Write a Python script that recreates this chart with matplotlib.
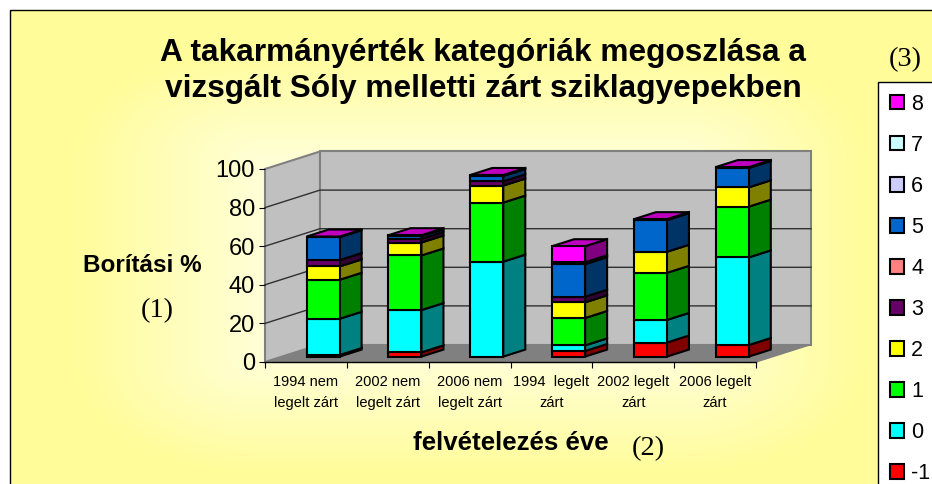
from __future__ import annotations

import matplotlib
matplotlib.use("Agg")
import matplotlib.pyplot as plt  # type: ignore
import numpy as np
from matplotlib.patches import Patch, Polygon, Rectangle

plt.rcParams["font.family"] = ["Liberation Sans", "DejaVu Sans"]

W, H = 932, 484

CATEGORIES = [
    "1994 nem\nlegelt zárt",
    "2002 nem\nlegelt zárt",
    "2006 nem\nlegelt zárt",
    "1994  legelt\nzárt",
    "2002 legelt\nzárt",
    "2006 legelt\nzárt",
]
YTICKS = [0, 20, 40, 60, 80, 100]

# series, bottom to top of the stack
S_M1 = [0.8, 2.2, 0.0, 2.9, 7.3, 6.0]
S_0 = [18.8, 21.9, 49.2, 2.9, 11.7, 45.4]
S_1 = [20.2, 28.3, 30.6, 14.2, 24.4, 26.3]
S_2 = [6.9, 6.7, 8.8, 8.1, 10.9, 10.0]
S_3 = [3.3, 1.9, 2.2, 2.9, 0.0, 0.0]
S_4 = [0.0, 0.0, 0.0, 0.0, 0.0, 0.0]
S_5 = [11.9, 1.4, 2.8, 16.9, 16.4, 10.0]
S_6 = [0.0, 0.0, 0.0, 0.0, 0.0, 0.0]
S_7 = [0.0, 0.0, 0.0, 1.0, 0.0, 0.0]
S_8 = [0.3, 0.5, 0.5, 8.3, 0.5, 0.5]

SERIES = [S_M1, S_0, S_1, S_2, S_3, S_4, S_5, S_6, S_7, S_8]
LABELS = ["-1", "0", "1", "2", "3", "4", "5", "6", "7", "8"]
FRONT = ["#FF0000", "#00FFFF", "#00FF00", "#FFFF00", "#660066",
         "#FF8080", "#0066CC", "#CCCCFF", "#CCFFFF", "#FF00FF"]
SIDE = ["#800000", "#008080", "#008000", "#808000", "#330033",
        "#804040", "#003366", "#666680", "#668080", "#800080"]
TOP = "#C000C0"


def fx(px: float) -> float:
    return px / W


def fy(py: float) -> float:
    return 1 - py / H


def background(fig) -> None:
    bg = fig.add_axes([0, 0, 1, 1], zorder=0)
    xx, yy = np.meshgrid(np.arange(W, dtype=float), np.arange(H, dtype=float))
    # pale patch behind the plot, fading to yellow towards the frame
    dx = np.maximum(np.abs(xx - 470) - 210, 0) / 190
    dy = np.maximum(np.abs(yy - 260) - 100, 0) / 115
    t = np.clip(np.hypot(dx, dy), 0, 1)[..., None]
    inner = np.array([1.0, 1.0, 0.84])
    outer = np.array([1.0, 0.99, 0.6])
    bg.imshow(inner * (1 - t) + outer * t, extent=(0, W, H, 0), aspect="auto")
    bg.add_patch(Rectangle((-5, -5), W + 10, 15, fc="white", ec="none"))
    bg.add_patch(Rectangle((-5, -5), 15, H + 10, fc="white", ec="none"))
    bg.add_patch(Rectangle((10, 10), W, H, fill=False, ec="black", lw=1))
    bg.set_xlim(0, W)
    bg.set_ylim(H, 0)
    bg.axis("off")


def main() -> None:
    fig = plt.figure(figsize=(W / 100, H / 100), dpi=100, facecolor="white")
    background(fig)

    ax = fig.add_axes([fx(265), fy(362), (756 - 265) / W, (362 - 169) / H], zorder=1)
    ax.patch.set_alpha(0)
    ax.set_xlim(-0.5, 5.5)
    ax.set_ylim(0, 100)
    for name in ("top", "right", "left"):
        ax.spines[name].set_visible(False)
    ax.spines["bottom"].set_linewidth(1)

    ux = 491 / 6  # px per category
    uy = 1.93  # px per percent
    wall_dx, wall_dy = 55 / ux, 17.5 / uy
    front_dx, front_dy = 17.2 / ux, 5.4 / uy
    bar_dx, bar_dy = 22 / ux, 7 / uy
    bar_w = 33 / ux

    # walls and floor
    x0, x1 = -0.5, 5.5
    ax.add_patch(Polygon([(x0, 0), (x1, 0), (x1 + wall_dx, wall_dy), (x0 + wall_dx, wall_dy)],
                         fc="#808080", ec="#808080", lw=1, clip_on=False, zorder=1))
    ax.add_patch(Polygon([(x0, 0), (x0 + wall_dx, wall_dy), (x0 + wall_dx, 100 + wall_dy), (x0, 100)],
                         fc="#C0C0C0", ec="#808080", lw=1.5, clip_on=False, zorder=1))
    ax.add_patch(Polygon([(x0 + wall_dx, wall_dy), (x1 + wall_dx, wall_dy),
                          (x1 + wall_dx, 100 + wall_dy), (x0 + wall_dx, 100 + wall_dy)],
                         fc="#C0C0C0", ec="#808080", lw=1.5, clip_on=False, zorder=1))
    for v in YTICKS[1:-1]:
        ax.plot([x0, x0 + wall_dx, x1 + wall_dx], [v, v + wall_dy, v + wall_dy],
                color="#303030", lw=1, clip_on=False, zorder=2)

    # stacked bars
    xs = np.arange(len(CATEGORIES)) + front_dx
    bottom = np.full(len(CATEGORIES), front_dy)
    for vals, fc, sc in zip(SERIES, FRONT, SIDE):
        vals = np.array(vals)
        keep = vals > 0
        ax.bar(xs[keep], vals[keep], bar_w, bottom=bottom[keep], color=fc, edgecolor="black",
               linewidth=1.5, clip_on=False, zorder=4)
        for x, b, v in zip(xs[keep], bottom[keep], vals[keep]):
            r = x + bar_w / 2
            ax.add_patch(Polygon([(r, b), (r + bar_dx, b + bar_dy), (r + bar_dx, b + v + bar_dy), (r, b + v)],
                                 fc=sc, ec="black", lw=1.5, clip_on=False, zorder=3.5))
        bottom = bottom + vals
    for x, b in zip(xs, bottom):
        le, r = x - bar_w / 2, x + bar_w / 2
        ax.add_patch(Polygon([(le, b), (r, b), (r + bar_dx, b + bar_dy), (le + bar_dx, b + bar_dy)],
                             fc=TOP, ec="black", lw=1.5, clip_on=False, zorder=3.5))

    # axes
    ax.set_yticks(YTICKS)
    ax.tick_params(axis="y", labelsize=17, length=4.3, width=0.8, pad=3)
    ax.set_xticks(np.arange(-0.5, 6.0, 1.0))
    ax.set_xticklabels([])
    ax.tick_params(axis="x", which="major", length=4.3, width=0.8)
    ax.set_xticks(np.arange(len(CATEGORIES)), minor=True)
    ax.set_xticklabels(CATEGORIES, minor=True, fontsize=10.5, linespacing=1.6)
    ax.tick_params(axis="x", which="minor", length=0, pad=9.5)

    ax.set_xlabel("felvételezés éve", fontsize=18.6, fontweight="bold")
    ax.xaxis.set_label_coords((511 - 265) / 491, (362 - 443) / 193, transform=ax.transAxes)
    ax.xaxis.label.set_verticalalignment("center")

    fig.text(fx(483), fy(71), "A takarmányérték kategóriák megoszlása a\nvizsgált Sóly melletti zárt sziklagyepekben",
             ha="center", va="center", fontsize=22.8, fontweight="bold", linespacing=1.25, zorder=5)
    fig.text(fx(142), fy(266), "Borítási %", ha="center", va="center", fontsize=17.5, fontweight="bold", zorder=5)
    serif = ["Liberation Serif", "DejaVu Serif"]
    fig.text(fx(157), fy(311), "(1)", ha="center", va="center", fontsize=20.5, family=serif, zorder=5)
    fig.text(fx(648), fy(449), "(2)", ha="center", va="center", fontsize=20.5, family=serif, zorder=5)
    fig.text(fx(905), fy(60), "(3)", ha="center", va="center", fontsize=20.5, family=serif, zorder=5)

    # legend runs off the edge of the picture, as in the original
    handles = [Patch(fc=c, ec="black", lw=1.5) for c in FRONT[::-1]]
    leg = fig.legend(handles, LABELS[::-1], loc="upper left", bbox_to_anchor=(fx(878), fy(82)),
                     borderaxespad=0, fontsize=15.5, frameon=True, fancybox=False, framealpha=1,
                     edgecolor="black", handlelength=0.65, handleheight=0.65, handletextpad=0.35,
                     labelspacing=0.93, borderpad=0.55)
    leg.get_frame().set_linewidth(1)
    leg.set_zorder(6)

    fig.savefig("out.png", dpi=100)


if __name__ == "__main__":
    main()
